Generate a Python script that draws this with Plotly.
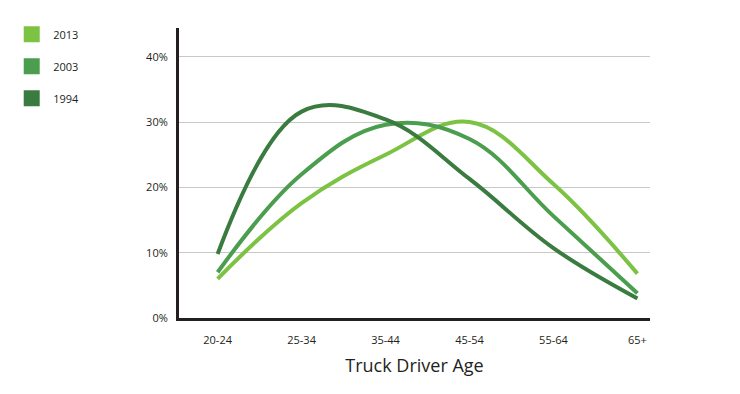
import plotly.graph_objects as go

ages = ["20-24", "25-34", "35-44", "45-54", "55-64", "65+"]
years = ["2013", "2003", "1994"]
v2013 = [6.0, 17.6, 25.0, 30.0, 20.5, 6.8]
v2003 = [7.0, 22.0, 29.6, 27.4, 15.6, 3.8]
v1994 = [9.8, 31.6, 30.4, 21.3, 10.7, 3.0]
y_ticks = [0, 10, 20, 30, 40]
y_labels = [f"{v}%" for v in y_ticks]
colors = {"2013": "#7cc243", "2003": "#4a9e4e", "1994": "#3a7c3f"}
series = {"2013": v2013, "2003": v2003, "1994": v1994}

fig = go.Figure()
for yr in years:
    fig.add_trace(go.Scatter(
        x=ages, y=series[yr], mode="lines",
        line=dict(color=colors[yr], width=4, shape="spline", smoothing=1.1),
        showlegend=False, hoverinfo="x+y+name", name=yr))
for i, yr in enumerate(years):
    fig.add_trace(go.Scatter(
        x=[None], y=[None], mode="markers", name=yr,
        marker=dict(symbol="square", size=16, color=colors[yr]),
        legendgroup="g" + yr, showlegend=True))

fig.update_layout(
    width=740, height=394,
    margin=dict(l=171, r=98, t=20, b=84),
    paper_bgcolor="white", plot_bgcolor="white",
    font=dict(family="Open Sans", size=11, color="#231f20"),
    legend=dict(xref="container", yref="container", x=0.003, y=0.97,
                xanchor="left", yanchor="top", traceorder="grouped",
                tracegroupgap=13, font=dict(size=11), itemwidth=33),
    xaxis=dict(range=[-0.46, 5.15], showline=True, linecolor="#231f20",
               linewidth=3, showgrid=False, ticks="", zeroline=False,
               ticklabelstandoff=10,
               title=dict(text="Truck Driver Age", font=dict(size=18), standoff=14)),
    yaxis=dict(range=[0, 44.4], tickmode="array", tickvals=y_ticks, ticktext=y_labels,
               showline=True, linecolor="#231f20", linewidth=3,
               showgrid=True, gridcolor="#c8c8c8", gridwidth=1,
               zeroline=False, ticks="", ticklabelstandoff=6),
)
fig.write_html("out.html")
